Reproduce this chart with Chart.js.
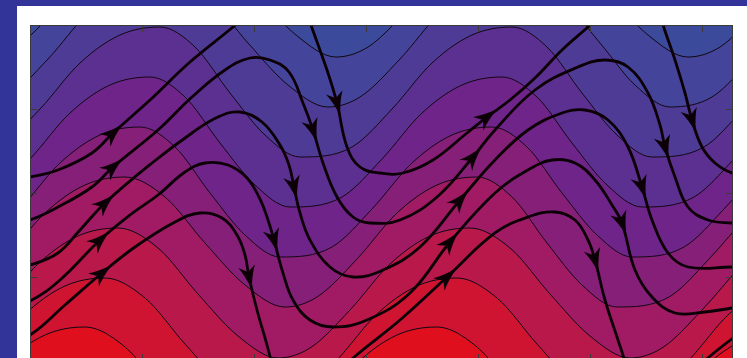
<!DOCTYPE html>
<html>
<head>
<meta charset="utf-8">
<script src="https://cdn.jsdelivr.net/npm/chart.js@4.4.1/dist/chart.umd.min.js"></script>
<style>
  html, body { margin: 0; padding: 0; width: 747px; height: 358px; overflow: hidden; background: #32349a; }
  #panel { position: absolute; left: 17px; top: 6px; width: 730px; height: 360px; background: #ffffff; }
  #wrap { position: absolute; left: 0; top: 0; width: 747px; height: 366px; }
</style>
</head>
<body>
<div id="panel"></div>
<div id="wrap"><canvas id="c" width="747" height="366"></canvas></div>
<script>
// Axis tick positions (no labels are drawn, only inward tick marks)
const xTicks = [0, 11.2, 22.4, 33.6, 44.8, 56.0, 67.2];
const yTicks = [0, 8.4, 16.8, 25.2, 33.6];

// Contour lines of the scalar field, from the highest level to the lowest
const contour0 = [[-4.6,30.4],[-1.4,31.4],[2.6,35.2],[6.6,39.8],[10.6,42.6],[14.6,43.4],[18.6,41.4],[22.6,36.8],[26.6,32.6],[30.6,30.4],[33.8,31.4],[37.8,35.2],[41.8,39.8],[45.8,42.6],[49.8,43.4],[53.8,41.4],[57.8,36.8],[61.8,32.6],[65.8,30.4],[69.0,31.4],[73.0,35.2]];
const contour1 = [[-5.4,25.4],[-2.2,26.4],[1.8,30.2],[5.8,34.8],[9.8,37.6],[13.8,38.4],[17.8,36.4],[21.8,31.8],[25.8,27.6],[29.8,25.4],[33.0,26.4],[37.0,30.2],[41.0,34.8],[45.0,37.6],[49.0,38.4],[53.0,36.4],[57.0,31.8],[60.5,27.6],[64.0,25.4],[68.2,26.4],[72.2,30.2]];
const contour2 = [[-6.2,20.4],[-3.0,21.4],[1.0,25.2],[5.0,29.8],[9.0,32.6],[13.0,33.4],[16.5,31.4],[20.0,26.8],[23.5,22.6],[27.0,20.4],[32.2,21.4],[36.2,25.2],[40.2,29.8],[44.2,32.6],[48.2,33.4],[51.7,31.4],[55.2,26.8],[58.7,22.6],[62.2,20.4],[67.4,21.4],[71.4,25.2]];
const contour3 = [[-7.2,15.4],[-4.0,16.4],[0.0,20.2],[4.0,24.8],[8.0,27.6],[12.0,28.4],[15.5,26.4],[19.0,21.8],[22.5,17.6],[26.0,15.4],[31.2,16.4],[35.2,20.2],[39.2,24.8],[43.2,27.6],[47.2,28.4],[50.7,26.4],[54.2,21.8],[57.7,17.6],[61.2,15.4],[66.4,16.4],[70.4,20.2],[74.4,24.8]];
const contour4 = [[-8.2,10.4],[-5.0,11.4],[-1.0,15.2],[3.0,19.8],[7.0,22.6],[11.0,23.4],[14.5,21.4],[18.0,16.8],[21.5,12.6],[25.0,10.4],[30.2,11.4],[34.2,15.2],[38.2,19.8],[42.2,22.6],[46.2,23.4],[49.7,21.4],[53.2,16.8],[56.7,12.6],[60.2,10.4],[65.4,11.4],[69.4,15.2],[73.4,19.8]];
const contour5 = [[-9.7,5.4],[-6.5,6.4],[-2.5,10.2],[1.5,14.8],[5.5,17.6],[9.5,18.4],[13.5,16.4],[17.5,11.8],[21.5,7.6],[25.5,5.4],[28.7,6.4],[32.7,10.2],[36.7,14.8],[40.7,17.6],[44.7,18.4],[48.2,16.4],[51.7,11.8],[55.2,7.6],[58.7,5.4],[63.9,6.4],[67.9,10.2],[71.9,14.8]];
const contour6 = [[-10.4,0.3],[-7.2,1.3],[-3.2,5.1],[0.8,9.7],[4.8,12.5],[8.8,13.3],[12.8,11.3],[16.8,6.7],[20.8,2.5],[24.8,0.3],[28.0,1.3],[32.0,5.1],[36.0,9.7],[40.0,12.5],[44.0,13.3],[48.0,11.3],[52.0,6.7],[56.0,2.5],[60.0,0.3],[63.2,1.3],[67.2,5.1],[71.2,9.7]];
const contour7 = [[-11.7,-4.7],[-8.5,-3.7],[-4.5,0.1],[-0.5,4.7],[3.5,7.5],[7.5,8.3],[11.5,6.3],[15.5,1.7],[19.5,-2.5],[23.5,-4.7],[26.7,-3.7],[30.7,0.1],[34.7,4.7],[38.7,7.5],[42.7,8.3],[46.7,6.3],[50.7,1.7],[54.7,-2.5],[58.7,-4.7],[61.9,-3.7],[65.9,0.1],[69.9,4.7],[73.9,7.5]];
const contour8 = [[-13.7,-9.6],[-10.5,-8.6],[-6.5,-4.8],[-2.5,-0.2],[1.5,2.6],[5.5,3.4],[9.5,1.4],[13.5,-3.2],[17.5,-7.4],[21.5,-9.6],[24.7,-8.6],[28.7,-4.8],[32.7,-0.2],[36.7,2.6],[40.7,3.4],[44.7,1.4],[48.7,-3.2],[52.7,-7.4],[56.7,-9.6],[59.9,-8.6],[63.9,-4.8],[67.9,-0.2],[71.9,2.6]];

// Fill colour of the band lying above each contour line, and below the lowest one
const bandColors = ['#3b4a9b', '#43449a', '#4d3b95', '#5b3090', '#6e2489', '#861f78', '#a01b63', '#b9184b', '#cf1432'];
const lowestBandColor = '#e00f1e';

// Streamlines (thick curves) and the point indices that carry an arrowhead
const stream1 = [[-2.0,18.1],[0.0,18.4],[2.8,19.1],[6.2,20.8],[8.3,22.8],[12.0,26.1],[16.0,29.9],[20.3,33.4],[22.8,35.6],[25.3,36.9],[27.2,36.1],[28.2,33.3],[29.7,29.1],[30.7,25.8],[31.7,21.4],[33.0,19.4],[35.0,18.8],[37.3,18.8],[40.3,20.1],[43.7,22.8],[45.7,24.4],[48.0,26.1],[50.5,28.3],[53.2,31.1],[55.8,33.4],[58.2,35.6],[60.7,36.9],[62.5,36.1],[63.4,33.3],[64.5,30.1],[65.5,26.8],[66.2,24.1],[67.2,21.4],[68.5,19.8],[70.2,18.8],[72.0,18.5]];
const stream2 = [[-2.0,13.7],[0.0,14.1],[2.8,15.4],[6.2,17.4],[8.3,19.4],[12.8,23.1],[16.2,26.4],[19.5,29.1],[22.0,30.3],[24.0,30.1],[25.9,28.9],[27.3,25.8],[28.3,23.1],[29.3,19.8],[30.7,16.4],[32.3,14.4],[34.0,13.8],[37.0,14.1],[40.7,16.4],[44.3,20.4],[46.5,23.1],[50.5,27.1],[54.8,29.4],[57.5,30.1],[59.8,29.4],[61.8,26.8],[63.0,23.6],[63.5,21.4],[64.5,18.4],[65.8,15.4],[67.8,14.1],[70.2,13.8],[72.0,13.7]];
const stream3 = [[-2.0,9.3],[0.0,9.6],[2.8,10.8],[5.0,13.1],[7.5,15.8],[12.2,19.8],[16.2,22.8],[18.8,24.4],[21.0,24.9],[23.2,23.9],[25.0,21.6],[25.9,19.6],[26.4,17.4],[27.0,14.8],[28.0,12.1],[30.0,9.4],[32.3,8.4],[35.3,9.1],[39.0,11.4],[43.0,16.1],[46.5,20.1],[49.8,23.1],[53.2,24.8],[55.5,25.1],[57.8,24.1],[59.8,21.4],[61.2,17.4],[62.2,14.1],[63.8,10.8],[65.8,9.4],[70.2,9.4],[72.0,9.4]];
const stream4 = [[-2.0,5.6],[0.0,6.0],[3.0,8.1],[7.0,12.1],[10.0,14.6],[12.8,16.6],[15.5,18.9],[17.5,19.8],[19.8,19.6],[21.7,18.3],[23.0,16.2],[23.8,14.1],[24.4,12.1],[25.3,8.8],[26.3,6.1],[28.0,4.1],[30.3,3.4],[33.7,4.1],[38.0,6.8],[42.0,11.9],[46.5,16.8],[49.8,19.1],[52.2,20.1],[54.5,19.8],[56.5,18.1],[58.2,15.6],[59.2,13.8],[60.5,9.1],[62.2,6.4],[64.5,4.8],[67.5,4.9],[70.2,5.3],[72.0,5.6]];
const stream5 = [[-2.0,2.1],[0.0,2.6],[3.5,5.6],[7.2,8.8],[10.5,11.4],[14.5,13.9],[17.0,14.8],[19.2,14.3],[20.7,12.6],[21.5,10.6],[21.9,8.4],[22.7,5.1],[23.7,1.6],[24.2,-0.4],[24.6,-2.4]];
const stream6 = [[29.0,-2.9],[31.0,-1.1],[32.3,0.3],[37.0,4.1],[41.7,8.4],[46.5,12.8],[49.8,14.4],[52.5,14.9],[54.5,14.1],[55.8,12.1],[56.5,10.1],[57.5,6.1],[58.8,2.1],[59.5,-0.1],[60.0,-2.4]];
const stream7 = [[65.0,-2.4],[67.0,-0.4],[68.5,0.9],[70.3,2.3],[72.0,3.5]];
const arrows1 = [4, 13, 20, 31];
const arrows2 = [4, 12, 19, 27];
const arrows3 = [4, 12, 19, 26];
const arrows4 = [3, 12, 19, 26];
const arrows5 = [3, 10];
const arrows6 = [4, 10];
const arrows7 = [];

const contours = [contour0, contour1, contour2, contour3, contour4, contour5, contour6, contour7, contour8];
const streams = [stream1, stream2, stream3, stream4, stream5, stream6, stream7];
const streamArrows = [arrows1, arrows2, arrows3, arrows4, arrows5, arrows6, arrows7];

const toPoints = arr => arr.map(([x, y]) => ({ x, y }));

// Each contour fills the region above it; the upper contours are drawn later, on top
const datasets = [];
contours.forEach((c, i) => {
  datasets.push({
    data: toPoints(c),
    borderColor: '#120812',
    borderWidth: 1,
    backgroundColor: bandColors[i],
    fill: 'end',
    pointRadius: 0,
    cubicInterpolationMode: 'monotone',
    order: 1,
    clip: 0
  });
});
const firstStream = datasets.length;
streams.forEach(s => {
  datasets.push({
    data: toPoints(s),
    borderColor: '#0c0006',
    borderWidth: 2.8,
    fill: false,
    pointRadius: 0,
    tension: 0.4,
    order: 0,
    clip: 0
  });
});

const TICK_LEN = 7;

const framePlugin = {
  id: 'frame',
  beforeDatasetsDraw(chart) {
    const { ctx, chartArea: a } = chart;
    ctx.save();
    ctx.fillStyle = lowestBandColor;
    ctx.fillRect(a.left, a.top, a.right - a.left, a.bottom - a.top);
    ctx.restore();
  },
  afterDatasetsDraw(chart) {
    const { ctx, chartArea: a } = chart;
    ctx.save();
    ctx.beginPath();
    ctx.rect(a.left, a.top, a.right - a.left, a.bottom - a.top);
    ctx.clip();
    ctx.fillStyle = '#0c0006';
    streamArrows.forEach((idxs, si) => {
      const pts = chart.getDatasetMeta(firstStream + si).data;
      idxs.forEach(i => {
        const p = pts[i], p0 = pts[i - 1], p1 = pts[i + 1];
        let dx = p1.x - p0.x, dy = p1.y - p0.y;
        const len = Math.hypot(dx, dy);
        dx /= len; dy /= len;
        const nx = -dy, ny = dx;
        const tip = [p.x + dx * 13, p.y + dy * 13];
        ctx.beginPath();
        ctx.moveTo(tip[0], tip[1]);
        ctx.quadraticCurveTo(p.x - dx * 2 + nx * 3.5, p.y - dy * 2 + ny * 3.5, p.x - dx * 11 + nx * 8.5, p.y - dy * 11 + ny * 8.5);
        ctx.lineTo(p.x - dx * 5, p.y - dy * 5);
        ctx.lineTo(p.x - dx * 11 - nx * 8.5, p.y - dy * 11 - ny * 8.5);
        ctx.quadraticCurveTo(p.x - dx * 2 - nx * 3.5, p.y - dy * 2 - ny * 3.5, tip[0], tip[1]);
        ctx.closePath();
        ctx.fill();
      });
    });
    ctx.restore();
  },
  afterDraw(chart) {
    const { ctx, chartArea: a, scales } = chart;
    ctx.save();
    ctx.strokeStyle = '#3a3a3a';
    ctx.lineWidth = 1;
    ctx.strokeRect(a.left + 0.5, a.top + 0.5, a.right - a.left - 1, a.bottom - a.top - 1);
    ctx.beginPath();
    xTicks.forEach(v => {
      const px = Math.round(scales.x.getPixelForValue(v)) + 0.5;
      ctx.moveTo(px, a.top); ctx.lineTo(px, a.top + TICK_LEN);
      ctx.moveTo(px, a.bottom); ctx.lineTo(px, a.bottom - TICK_LEN);
    });
    yTicks.forEach(v => {
      const py = Math.round(scales.y.getPixelForValue(v)) + 0.5;
      ctx.moveTo(a.left, py); ctx.lineTo(a.left + TICK_LEN, py);
      ctx.moveTo(a.right, py); ctx.lineTo(a.right - TICK_LEN, py);
    });
    ctx.stroke();
    ctx.restore();
  }
};

new Chart(document.getElementById('c'), {
  type: 'line',
  data: { datasets },
  options: {
    responsive: false,
    animation: false,
    layout: { padding: { left: 30, right: 14, top: 25, bottom: 5 } },
    plugins: { legend: { display: false }, tooltip: { enabled: false } },
    scales: {
      x: { type: 'linear', min: 0, max: 70.3, display: false },
      y: { type: 'linear', min: 0, max: 33.6, display: false }
    }
  },
  plugins: [framePlugin]
});
</script>
</body>
</html>
